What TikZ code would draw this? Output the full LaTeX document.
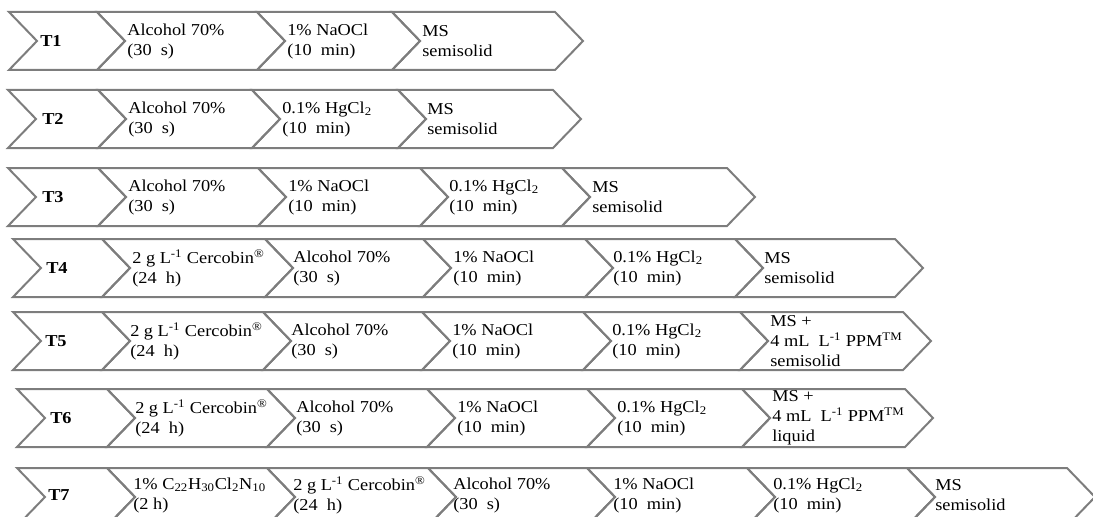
\documentclass[tikz,border=0pt]{standalone}
\usepackage{fontspec}
\setmainfont[FakeStretch=1.1]{Liberation Serif}
\definecolor{chevgray}{RGB}{125,125,125}
% one chevron: left x, right x, middle y
\newcommand{\chevron}[3]{\draw[chev] (#1,#3-29) -- (#2,#3-29) -- (#2+28,#3) -- (#2,#3+29) -- (#1,#3+29) -- (#1+28,#3) -- cycle;}
\tikzset{
  chev/.style={draw=chevgray,line width=1.5pt},
  txt/.style={anchor=west,align=left,inner sep=0pt,font=\fontsize{12.5}{15}\selectfont},
  tlab/.style={txt,font=\fontsize{12.5}{15}\selectfont\bfseries}
}
\begin{document}
\begin{tikzpicture}[x=0.75pt,y=-0.75pt]
		\useasboundingbox (0,0) rectangle (1093,517);
		\clip (0,0) rectangle (1093,517);
		% T1
		\foreach \a/\b in {9/97,97/257,257/392,392/555} {\chevron{\a}{\b}{41}}
		\node[tlab] (t1) at (40,41) {T1};
		\node[txt] (t1a) at (127,41) {Alcohol 70\%\\(30~ s)};
		\node[txt] (t1b) at (287,41) {1\% NaOCl\\(10~ min)};
		\node[txt] (t1c) at (422,41) {MS\\semisolid};
		% T2
		\foreach \a/\b in {8/98,98/252,252/398,398/553} {\chevron{\a}{\b}{119}}
		\node[tlab] (t2) at (42,119) {T2};
		\node[txt] (t2a) at (128,119) {Alcohol 70\%\\(30~ s)};
		\node[txt] (t2b) at (282,119) {0.1\% HgCl\textsubscript{2}\\(10~ min)};
		\node[txt] (t2c) at (427,119) {MS\\semisolid};
		% T3
		\foreach \a/\b in {8/98,98/258,258/420,420/562,562/727} {\chevron{\a}{\b}{197}}
		\node[tlab] (t3) at (42,197) {T3};
		\node[txt] (t3a) at (128,197) {Alcohol 70\%\\(30~ s)};
		\node[txt] (t3b) at (288,197) {1\% NaOCl\\(10~ min)};
		\node[txt] (t3c) at (449,197) {0.1\% HgCl\textsubscript{2}\\(10~ min)};
		\node[txt] (t3d) at (592,197) {MS\\semisolid};
		% T4
		\foreach \a/\b in {13/102,102/265,265/423,423/585,585/735,735/895} {\chevron{\a}{\b}{268}}
		\node[tlab] (t4) at (46,268) {T4};
		\node[txt] (t4a) at (132,268) {2 g L\textsuperscript{-1} Cercobin\textsuperscript{®}\\(24~ h)};
		\node[txt] (t4b) at (293,268) {Alcohol 70\%\\(30~ s)};
		\node[txt] (t4c) at (453,268) {1\% NaOCl\\(10~ min)};
		\node[txt] (t4d) at (613,268) {0.1\% HgCl\textsubscript{2}\\(10~ min)};
		\node[txt] (t4e) at (764,268) {MS\\semisolid};
		% T5
		\foreach \a/\b in {13/102,102/263,263/422,422/583,583/740,740/903} {\chevron{\a}{\b}{341}}
		\node[tlab] (t5) at (45,341) {T5};
		\node[txt] (t5a) at (130,341) {2 g L\textsuperscript{-1} Cercobin\textsuperscript{®}\\(24~ h)};
		\node[txt] (t5b) at (291,341) {Alcohol 70\%\\(30~ s)};
		\node[txt] (t5c) at (452,341) {1\% NaOCl\\(10~ min)};
		\node[txt] (t5d) at (612,341) {0.1\% HgCl\textsubscript{2}\\(10~ min)};
		\node[txt] (t5e) at (770,341) {MS +\\4 mL~ L\textsuperscript{-1} PPM\textsuperscript{TM}\\semisolid};
		% T6
		\foreach \a/\b in {17/107,107/267,267/427,427/587,587/742,742/905} {\chevron{\a}{\b}{418}}
		\node[tlab] (t6) at (50,418) {T6};
		\node[txt] (t6a) at (135,418) {2 g L\textsuperscript{-1} Cercobin\textsuperscript{®}\\(24~ h)};
		\node[txt] (t6b) at (296,418) {Alcohol 70\%\\(30~ s)};
		\node[txt] (t6c) at (457,418) {1\% NaOCl\\(10~ min)};
		\node[txt] (t6d) at (617,418) {0.1\% HgCl\textsubscript{2}\\(10~ min)};
		\node[txt] (t6e) at (772,418) {MS +\\4 mL~ L\textsuperscript{-1} PPM\textsuperscript{TM}\\liquid};
		% T7
		\foreach \a/\b in {17/107,107/267,267/428,428/587,587/747,747/907,907/1067} {\chevron{\a}{\b}{497}}
		\node[tlab] (t7) at (48,495) {T7};
		\node[txt] (t7a) at (133,495) {1\% C\textsubscript{22}H\textsubscript{30}Cl\textsubscript{2}N\textsubscript{10}\\(2 h)};
		\node[txt] (t7b) at (293,495) {2 g L\textsuperscript{-1} Cercobin\textsuperscript{®}\\(24~ h)};
		\node[txt] (t7c) at (453,495) {Alcohol 70\%\\(30~ s)};
		\node[txt] (t7d) at (613,495) {1\% NaOCl\\(10~ min)};
		\node[txt] (t7e) at (773,495) {0.1\% HgCl\textsubscript{2}\\(10~ min)};
		\node[txt] (t7f) at (935,495) {MS\\semisolid};
\end{tikzpicture}
\end{document}
